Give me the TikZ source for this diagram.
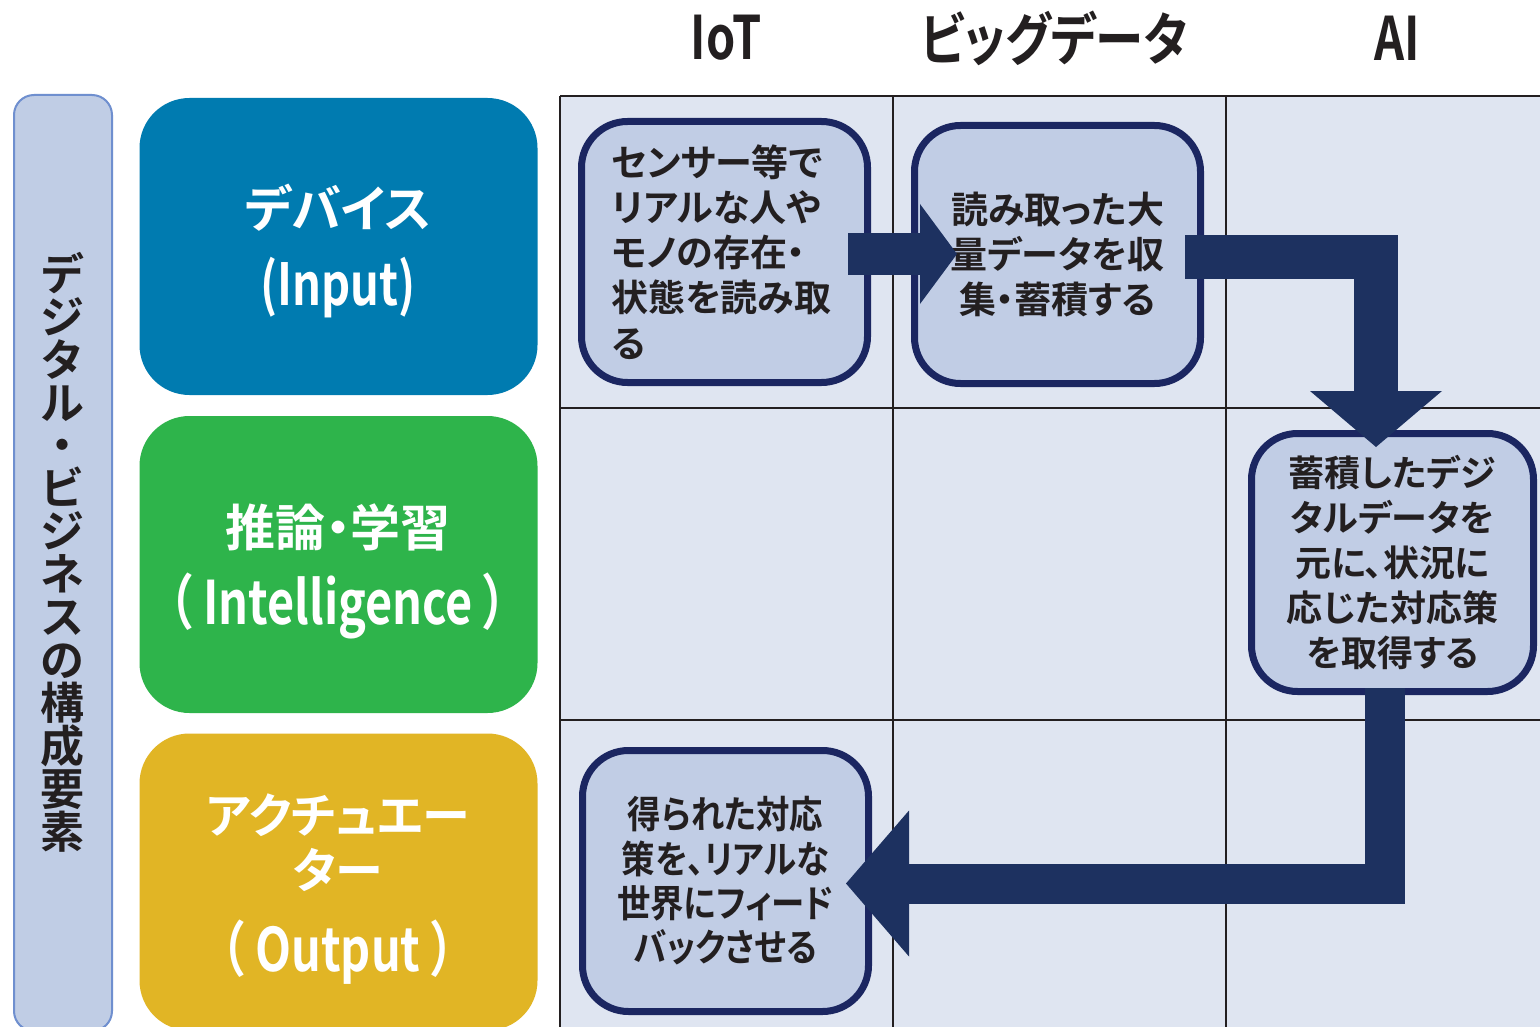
\documentclass[tikz,border=0pt]{standalone}
\usepackage{fontspec}
\usetikzlibrary{arrows.meta,calc}

% Fonts: bold Japanese gothic, proportional kana, condensed variants
\newfontfamily\jp{Noto Sans CJK JP Bold}[RawFeature=+palt]
\newfontfamily\jpv{Noto Sans CJK JP Bold}
\newfontfamily\jpn{Noto Sans CJK JP Bold}[RawFeature=+palt,FakeStretch=0.88]
\newfontfamily\hd{Noto Sans CJK JP Bold}[RawFeature=+palt,FakeStretch=0.85]
\newfontfamily\lat{Noto Sans CJK JP Bold}[FakeStretch=0.78]

\definecolor{ink}{HTML}{231F20}
\definecolor{navy}{HTML}{1B2661}
\definecolor{flowc}{HTML}{1D3160}
\definecolor{boxfill}{HTML}{C1CDE5}
\definecolor{gridbg}{HTML}{DFE5F1}
\definecolor{barfill}{HTML}{C0CDE5}
\definecolor{barline}{HTML}{6F8FCF}
\definecolor{cblue}{HTML}{007BB0}
\definecolor{cgreen}{HTML}{2EB44B}
\definecolor{cyellow}{HTML}{E1B525}

\begin{document}
\begin{tikzpicture}[x=1pt,y=-1pt,
  catbox/.style={rounded corners=50, minimum width=398, minimum height=297, inner sep=0},
  cattext/.style={text=white, inner sep=0},
  stepbox/.style={draw=navy, line width=7, fill=boxfill, rounded corners=46,
    inner sep=0, text=ink},
  steptext/.style={font=\jp\fontsize{37}{45.2}\selectfont},
  gridline/.style={draw=ink, line width=2.5},
  hdr/.style={text=ink, inner sep=0},
  flow/.style={draw=flowc, line join=miter}
]
\useasboundingbox (0,0) rectangle (1540,1027);
\clip (0,0) rectangle (1540,1027);
\fill[white] (0,0) rectangle (1540,1027);

% column headers
\node[hdr, font=\lat\fontsize{60}{60}\selectfont] (hiot) at (726,38) {IoT};
\node[hdr, font=\hd\fontsize{57}{57}\selectfont] (hbig) at (1054,38) {ビッグデータ};
\node[hdr, font=\lat\fontsize{60}{60}\selectfont] (hai) at (1397,38) {AI};

% side bar with vertical title
\node[draw=barline, line width=2, fill=barfill, rounded corners=20,
  minimum width=98, minimum height=936, inner sep=0] (side) at (63,563) {};
\node[text=ink, align=center, inner sep=0,
  font=\jpv\fontsize{44}{42.9}\selectfont] (sidet) at (62,552)
  {デ\\ジ\\タ\\ル\\・\\ビ\\ジ\\ネ\\ス\\の\\構\\成\\要\\素};

% category boxes
\node[catbox, fill=cblue] (dev) at (338.5,246.5) {};
\node[cattext, font=\jp\fontsize{50}{50}\selectfont] (devj) at (338,208) {デバイス};
\node[cattext, font=\lat\fontsize{58}{58}\selectfont] (deve) at (338,288) {(Input)};

\node[catbox, fill=cgreen] (inf) at (338.5,564.5) {};
\node[cattext, font=\jp\fontsize{50}{50}\selectfont] (infj) at (338,527) {推論・学習};
\node[cattext, font=\lat\fontsize{60}{60}\selectfont] (infe) at (338,606)
  {（\hspace{9pt}Intelligence\hspace{9pt}）};

\node[catbox, fill=cyellow] (act) at (338.5,882) {};
\node[cattext, font=\jp\fontsize{48}{48}\selectfont] (actj1) at (338,815) {アクチュエー};
\node[cattext, font=\jp\fontsize{48}{48}\selectfont] (actj2) at (338,870) {ター};
\node[cattext, font=\lat\fontsize{60}{60}\selectfont] (acte) at (338,952)
  {（\hspace{9pt}Output\hspace{9pt}）};

% matrix background and rules
\fill[gridbg] (560,96) rectangle (1545,1035);
\draw[gridline] (560,96) -- (1545,96);
\draw[gridline] (560,408) -- (1545,408);
\draw[gridline] (560,720) -- (1545,720);
\draw[gridline] (560,96) -- (560,1035);
\draw[gridline] (893,96) -- (893,1035);
\draw[gridline] (1226,96) -- (1226,1035);

% process steps
\node[stepbox, steptext, minimum width=286, minimum height=261,
  align=left, text width=226, inner xsep=30] (b1) at (724.5,252)
  {センサー等で\\リアルな人や\\モノの存在・\\状態を読み取\\る};
\node[stepbox, steptext, minimum width=286, minimum height=258,
  align=center] (b2) at (1057.5,254.5)
  {読み取った大\\量データを収\\集・蓄積する};
\node[stepbox, minimum width=282, minimum height=258, align=center,
  font=\jp\fontsize{36}{44.8}\selectfont] (b3) at (1392.5,562.5)
  {蓄積したデジ\\タルデータを\\元に、状況に\\応じた対応策\\を取得する};
\node[stepbox, minimum width=286, minimum height=261, align=center,
  font=\jpn\fontsize{38}{44.4}\selectfont] (b4) at (725.5,881)
  {得られた対応\\策を、リアルな\\世界にフィード\\バックさせる};

% flow arrows
\draw[flow, line width=42,
  -{Triangle[length=37pt,width=100pt,line width=0pt]}]
  ($(b1.east)+(-23,2)$) -- ($(b2.west)+(46,-0.5)$);
\draw[flow, line width=44,
  -{Triangle[length=56pt,width=132pt,line width=0pt]}]
  ($(b2.east)+(-19,2.5)$) -| ($(b3.north)+(-16.5,17)$);
\draw[flow, line width=40,
  -{Triangle[length=63pt,width=146pt,line width=0pt]}]
  ($(b3.south)+(-7.5,-7)$) |- ($(b4.east)+(-26,2.5)$);
\end{tikzpicture}
\end{document}
